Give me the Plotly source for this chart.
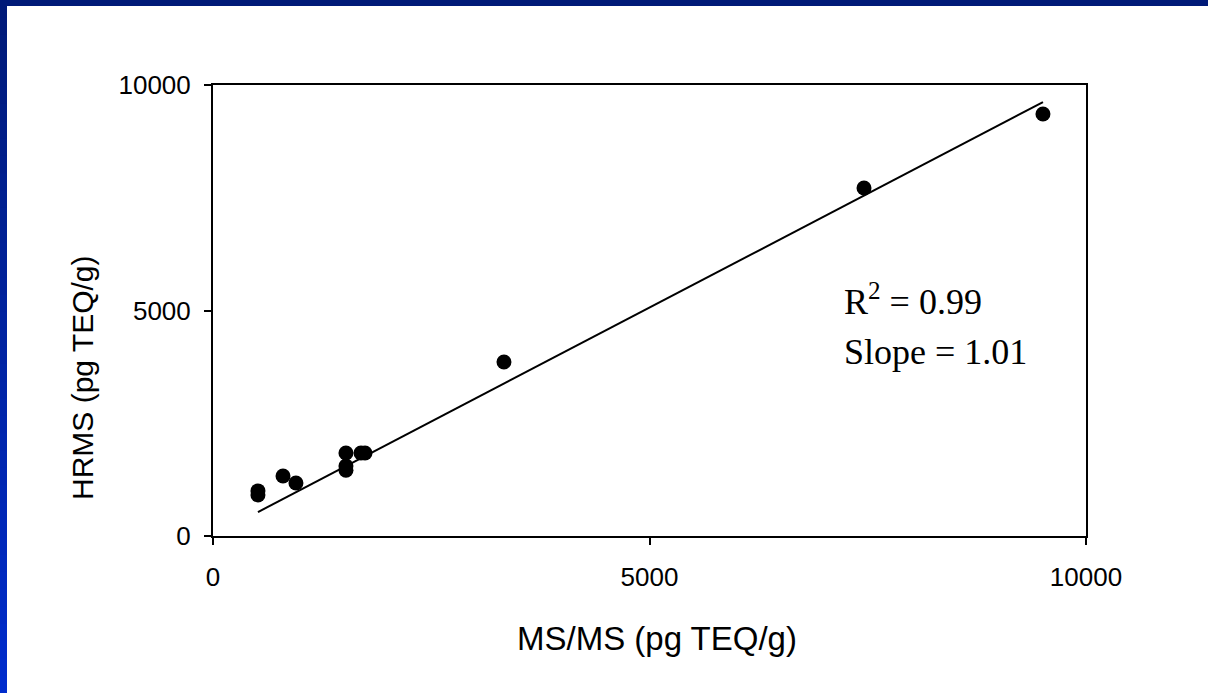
import plotly.graph_objects as go

# Data (pg TEQ/g)
ms_ms = [515, 515, 802, 950, 1523, 1523, 1523, 1695, 1741, 3333, 7457, 9507]
hrms = [910, 1000, 1330, 1175, 1840, 1460, 1550, 1840, 1840, 3858, 7716, 9357]

fit_slope = 1.011
fit_intercept = 10
r2_text = "R<sup>2</sup> = 0.99"
slope_text = "Slope = 1.01"
x_title = "MS/MS (pg TEQ/g)"
y_title = "HRMS (pg TEQ/g)"
tick_vals = [0, 5000, 10000]
tick_text = ["0", "5000", "10000"]

W, H = 1208, 693
L, R, T, B = 213, 122, 85, 157
pw, ph = W - L - R, H - T - B

fig = go.Figure()

fig.add_trace(go.Scatter(
    x=ms_ms, y=hrms, mode="markers",
    marker=dict(color="black", size=15, line=dict(width=0)),
    showlegend=False, hoverinfo="x+y"))

x_lo, x_hi = min(ms_ms), max(ms_ms)
fig.add_trace(go.Scatter(
    x=[x_lo, x_hi],
    y=[fit_slope * x_lo + fit_intercept, fit_slope * x_hi + fit_intercept],
    mode="lines", line=dict(color="black", width=2),
    showlegend=False, hoverinfo="skip"))

def px_x(p):
    return (p - L) / pw

def px_y(p):
    return (H - B - p) / ph

shapes = []
# top bar
shapes.append(dict(type="rect", xref="paper", yref="paper",
                   x0=px_x(0), x1=px_x(W), y0=px_y(6), y1=px_y(0),
                   fillcolor="#001a78", line=dict(width=0), layer="above"))
# left bar with vertical gradient
n = 40
c0 = (0, 26, 120)
c1 = (0, 44, 204)
for i in range(n):
    t = i / (n - 1)
    col = "rgb({},{},{})".format(*[round(a + (b - a) * t) for a, b in zip(c0, c1)])
    y_top = H * i / n
    y_bot = H * (i + 1) / n + 1
    shapes.append(dict(type="rect", xref="paper", yref="paper",
                       x0=px_x(0), x1=px_x(7), y0=px_y(min(y_bot, H)), y1=px_y(y_top),
                       fillcolor=col, line=dict(width=0), layer="above"))

sans = "Liberation Sans, Arial, sans-serif"
serif = "Liberation Serif, Times New Roman, serif"

axis_common = dict(
    range=[0, 10000], tickvals=tick_vals, ticktext=tick_text,
    showgrid=False, zeroline=False, showline=True, mirror=True,
    linecolor="black", linewidth=2, ticks="outside", ticklen=7,
    tickwidth=2, tickcolor="black",
    tickfont=dict(family=sans, size=26, color="black"),
)

fig.update_layout(
    width=W, height=H,
    margin=dict(l=L, r=R, t=T, b=B),
    paper_bgcolor="white", plot_bgcolor="white",
    xaxis=dict(**axis_common, ticklabelstandoff=10),
    yaxis=dict(**axis_common, ticklabelstandoff=8),
    shapes=shapes,
    annotations=[
        dict(x=px_x(657), y=px_y(638), xref="paper", yref="paper", text=x_title,
             showarrow=False, xanchor="center", yanchor="middle",
             font=dict(family=sans, size=33, color="black")),
        dict(x=px_x(82), y=px_y(378), xref="paper", yref="paper", text=y_title,
             showarrow=False, xanchor="center", yanchor="middle", textangle=-90,
             font=dict(family=sans, size=30, color="black")),
        dict(x=7200, y=5255, xref="x", yref="y", text=r2_text, showarrow=False,
             xanchor="left", yanchor="middle",
             font=dict(family=serif, size=36, color="black")),
        dict(x=7200, y=4080, xref="x", yref="y", text=slope_text, showarrow=False,
             xanchor="left", yanchor="middle",
             font=dict(family=serif, size=36, color="black")),
    ],
)

fig.write_html("out.html")
